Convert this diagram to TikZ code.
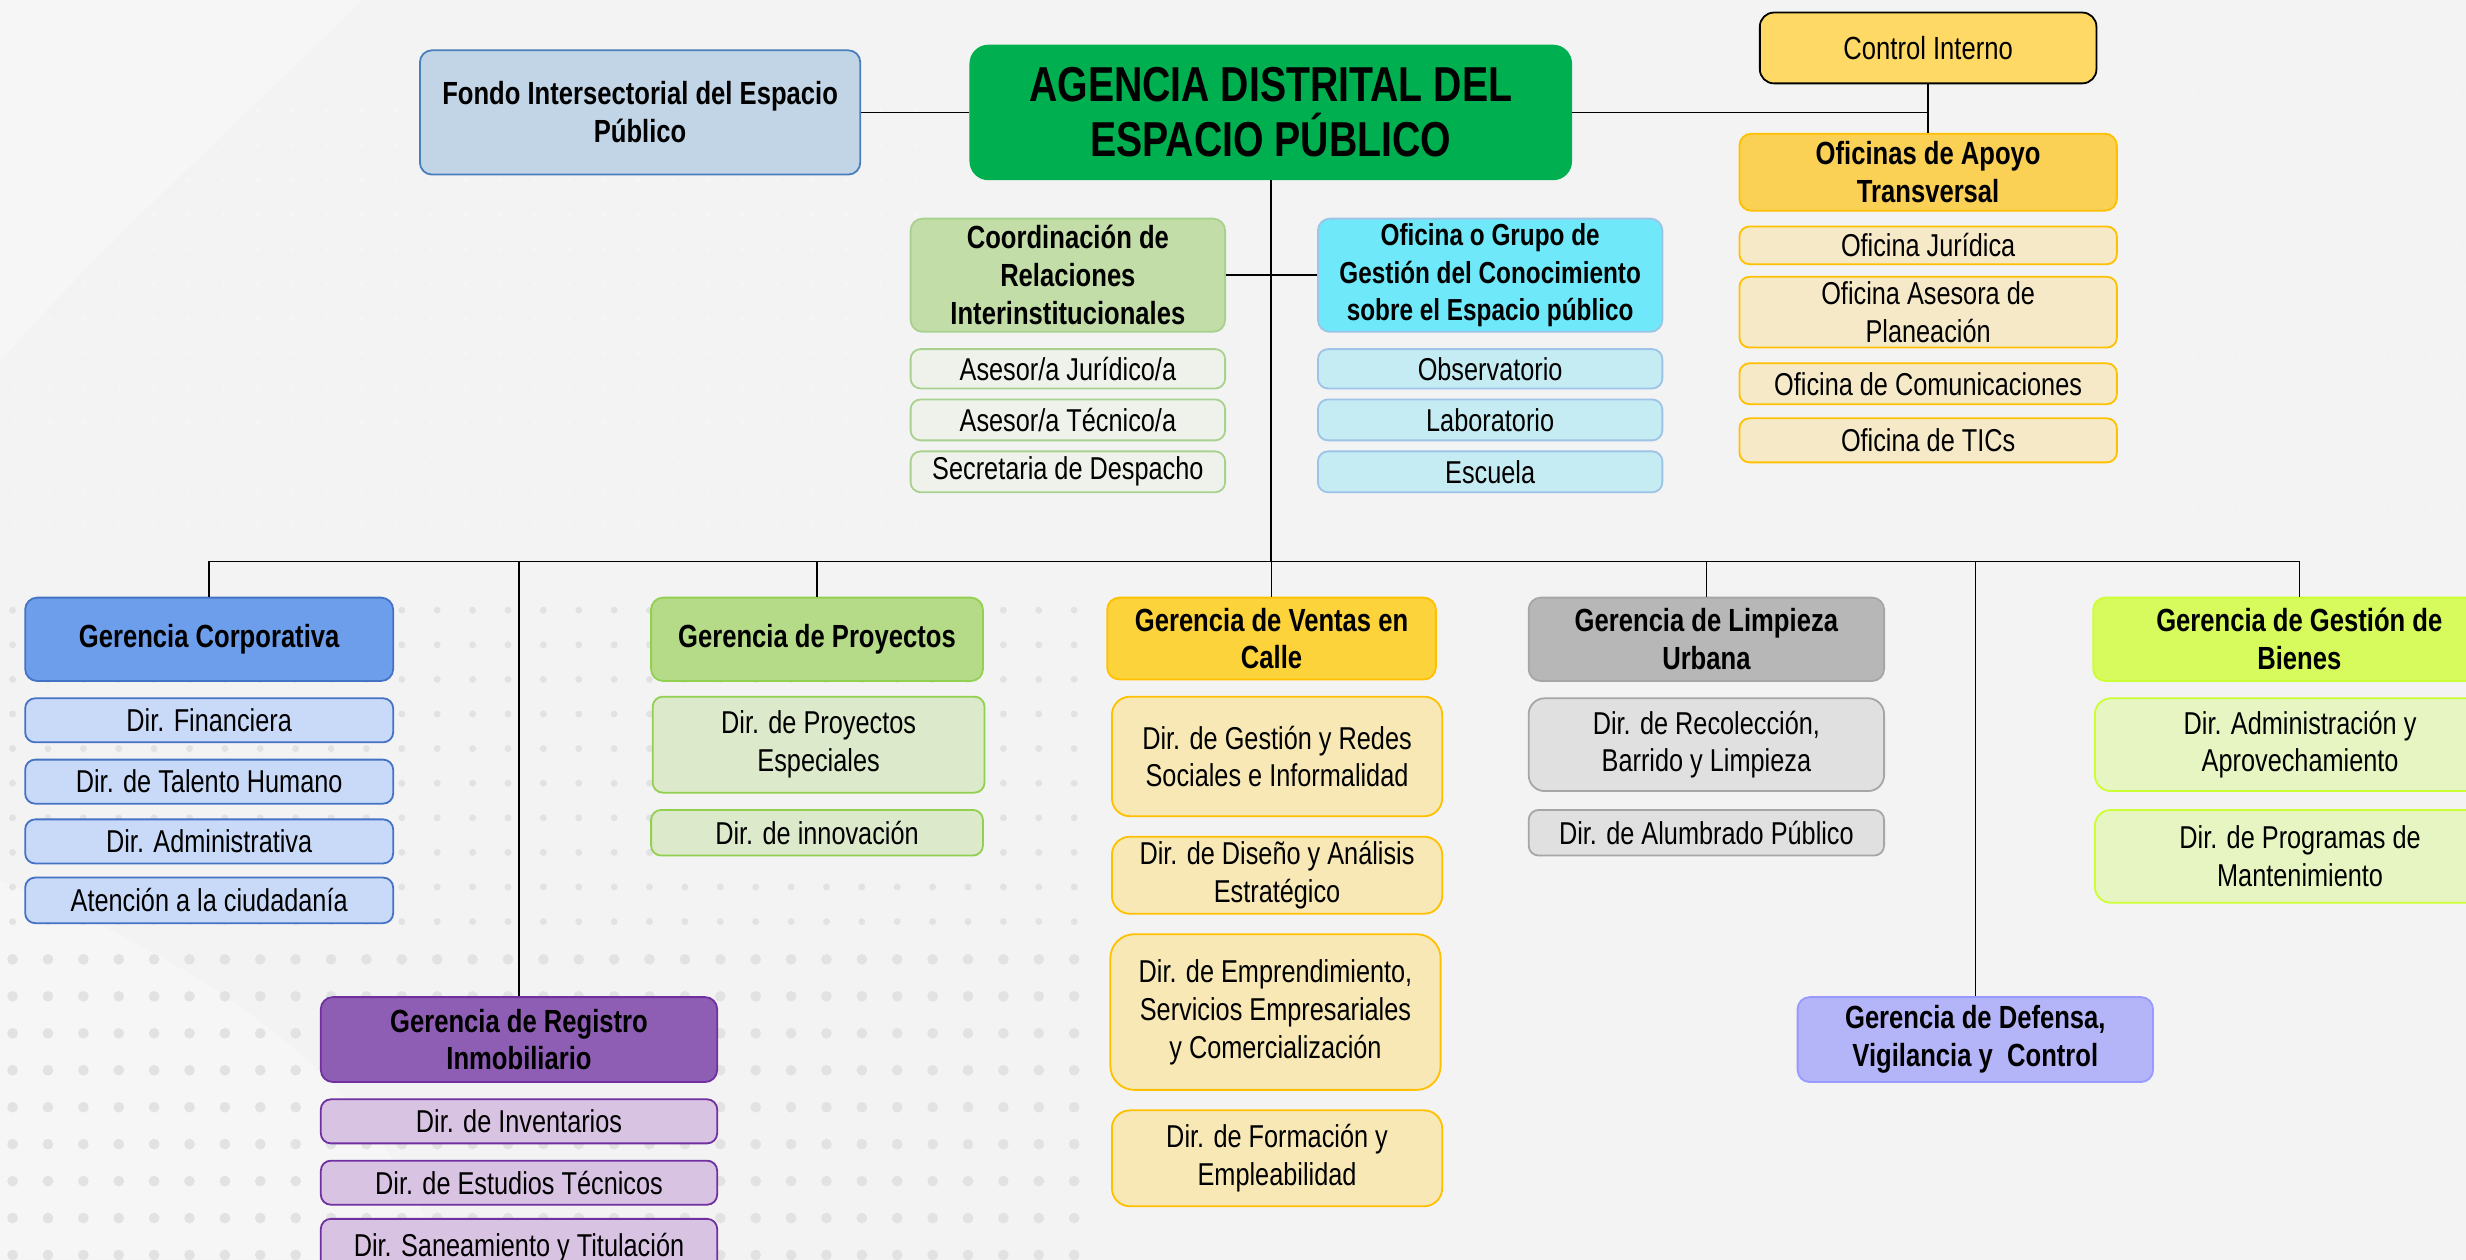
\documentclass[tikz,border=0pt]{standalone}
\usepackage{fontspec}
\setmainfont{Liberation Sans}[FakeStretch=0.80]
\usetikzlibrary{calc}
\definecolor{bgc}{HTML}{F3F3F3}
\definecolor{fondoF}{HTML}{C2D5E6}\definecolor{fondoD}{HTML}{4A7EBB}
\definecolor{agF}{HTML}{00B050}
\definecolor{ciF}{HTML}{FFD966}
\definecolor{apF}{HTML}{FAD055}\definecolor{apD}{HTML}{FFC000}\definecolor{apS}{HTML}{F6E9C8}
\definecolor{coF}{HTML}{C3DDA9}\definecolor{coD}{HTML}{A9D18E}\definecolor{coS}{HTML}{EEF2EA}
\definecolor{ogF}{HTML}{6FE9F9}\definecolor{ogD}{HTML}{9DC3E6}\definecolor{ogS}{HTML}{C6ECF3}
\definecolor{gcF}{HTML}{6D9EEB}\definecolor{gcD}{HTML}{4472C4}\definecolor{gcS}{HTML}{C9DAF8}
\definecolor{gpF}{HTML}{B6DB88}\definecolor{gpD}{HTML}{92D050}\definecolor{gpS}{HTML}{DCE9CB}
\definecolor{gvF}{HTML}{FCD33A}\definecolor{gvD}{HTML}{FFC000}\definecolor{gvS}{HTML}{F7E8B5}
\definecolor{glF}{HTML}{B7B7B7}\definecolor{glD}{HTML}{A6A6A6}\definecolor{glS}{HTML}{E0E0E0}
\definecolor{gbF}{HTML}{D7FA5C}\definecolor{gbD}{HTML}{CCFF33}\definecolor{gbS}{HTML}{E6F5C2}
\definecolor{grF}{HTML}{8E5DB4}\definecolor{grD}{HTML}{7030A0}\definecolor{grS}{HTML}{D9C3E2}
\definecolor{gdF}{HTML}{B4B4F8}\definecolor{gdD}{HTML}{9999FF}
\definecolor{dotc}{HTML}{E2E2E2}
\tikzset{
  box/.style={draw, rounded corners=6pt, align=center, inner sep=0pt, line width=0.9pt},
  hdr/.style={box, font=\bfseries\fontsize{16}{18.9}\selectfont},
  sub/.style={box, rounded corners=5pt, font=\fontsize{15.8}{18.9}\selectfont},
  conn/.style={draw=black, line width=0.8pt},
}
\newcommand{\orgbox}[7]{%
  \node[#2, minimum width={(#5-#3)*0.786pt}, minimum height={(#6-#4)*0.786pt}]
    (#1) at ({(#3+#5)/2},{(#4+#6)/2}) {#7};}
\begin{document}
\begin{tikzpicture}[x=0.786pt,y=-0.786pt]
\useasboundingbox (0,0) rectangle (1568,801);
\clip (0,0) rectangle (1568,801);
\fill[bgc] (0,0) rectangle (1568,801);
\fill[white,opacity=0.3] (0,0) -- (230,0) .. controls (150,80) and (60,160) .. (0,230) -- cycle;
\fill[white,opacity=0.3] (0,560) .. controls (150,620) and (250,700) .. (280,801) -- (0,801) -- cycle;
% dot grids
\foreach \i in {0,...,26}{\foreach \j in {0,...,12}{
  \fill[white!70!dotc] ({10+\i*22},{70+\j*22}) circle (1.3);}}
\foreach \i in {0,...,30}{\foreach \j in {0,...,9}{
  \fill[dotc] ({8+\i*22.5},{388+\j*22}) circle (2.2);}}
\foreach \i in {0,...,30}{\foreach \j in {0,...,8}{
  \fill[dotc] ({8+\i*22.5},{610+\j*23.5}) circle (3.4);}}
\foreach \i in {0,...,9}{\foreach \j in {0,...,13}{
  \fill[white!55!dotc] ({1350+\i*24},{35+\j*24}) circle (1.5);}}

% top level
\orgbox{fondo}{hdr, fill=fondoF, draw=fondoD}{267}{32}{547}{111}{Fondo Intersectorial del Espacio\\Público}
\orgbox{agencia}{box, fill=agF, draw=agF, rounded corners=9pt, font=\bfseries\fontsize{24.5}{27.5}\selectfont}{617}{29}{999}{114}{AGENCIA DISTRITAL DEL\\ESPACIO PÚBLICO}
\orgbox{ctrl}{box, fill=ciF, draw=black, rounded corners=7pt, font=\fontsize{16}{18}\selectfont}{1119}{8}{1333}{53}{Control Interno}
\orgbox{apoyo}{hdr, fill=apF, draw=apD}{1106}{85}{1346}{134}{Oficinas de Apoyo\\Transversal}
\orgbox{ap1}{sub, fill=apS, draw=apD}{1106}{144}{1346}{168}{Oficina Jurídica}
\orgbox{ap2}{sub, fill=apS, draw=apD}{1106}{176}{1346}{221}{Oficina Asesora de\\Planeación}
\orgbox{ap3}{sub, fill=apS, draw=apD}{1106}{231}{1346}{257}{Oficina de Comunicaciones}
\orgbox{ap4}{sub, fill=apS, draw=apD}{1106}{266}{1346}{294}{Oficina de TICs}

\orgbox{coord}{hdr, fill=coF, draw=coD}{579}{139}{779}{211}{Coordinación de\\Relaciones\\Interinstitucionales}
\orgbox{co1}{sub, fill=coS, draw=coD}{579}{222}{779}{247}{Asesor/a Jurídico/a}
\orgbox{co2}{sub, fill=coS, draw=coD}{579}{254}{779}{280}{Asesor/a Técnico/a}
\orgbox{co3}{sub, fill=coS, draw=coD}{579}{287}{779}{313}{Secretaria de Despacho}

\orgbox{ogrupo}{hdr, fill=ogF, draw=ogD, font=\bfseries\fontsize{15.2}{18.9}\selectfont}{838}{139}{1057}{211}{Oficina o Grupo de\\Gestión del Conocimiento\\sobre el Espacio público}
\orgbox{og1}{sub, fill=ogS, draw=ogD}{838}{222}{1057}{247}{Observatorio}
\orgbox{og2}{sub, fill=ogS, draw=ogD}{838}{254}{1057}{280}{Laboratorio}
\orgbox{og3}{sub, fill=ogS, draw=ogD}{838}{287}{1057}{313}{Escuela}

% gerencias
\orgbox{gc}{hdr, fill=gcF, draw=gcD}{16}{380}{250}{433}{Gerencia Corporativa}
\orgbox{gc1}{sub, fill=gcS, draw=gcD}{16}{444}{250}{472}{Dir. Financiera}
\orgbox{gc2}{sub, fill=gcS, draw=gcD}{16}{483}{250}{511}{Dir. de Talento Humano}
\orgbox{gc3}{sub, fill=gcS, draw=gcD}{16}{521}{250}{549}{Dir. Administrativa}
\orgbox{gc4}{sub, fill=gcS, draw=gcD}{16}{558}{250}{587}{Atención a la ciudadanía}

\orgbox{gp}{hdr, fill=gpF, draw=gpD}{414}{380}{625}{433}{Gerencia de Proyectos}
\orgbox{gp1}{sub, fill=gpS, draw=gpD}{415}{443}{626}{504}{Dir. de Proyectos\\Especiales}
\orgbox{gp2}{sub, fill=gpS, draw=gpD}{414}{515}{625}{544}{Dir. de innovación}

\orgbox{gv}{hdr, fill=gvF, draw=gvD}{704}{380}{913}{432}{Gerencia de Ventas en\\Calle}
\orgbox{gv1}{sub, fill=gvS, draw=gvD, rounded corners=9pt}{707}{443}{917}{519}{Dir. de Gestión y Redes\\Sociales e Informalidad}
\orgbox{gv2}{sub, fill=gvS, draw=gvD, rounded corners=9pt}{707}{532}{917}{581}{Dir. de Diseño y Análisis\\Estratégico}
\orgbox{gv3}{sub, fill=gvS, draw=gvD, rounded corners=12pt}{706}{594}{916}{693}{Dir. de Emprendimiento,\\Servicios Empresariales\\y Comercialización}
\orgbox{gv4}{sub, fill=gvS, draw=gvD, rounded corners=9pt}{707}{706}{917}{767}{Dir. de Formación y\\Empleabilidad}

\orgbox{gl}{hdr, fill=glF, draw=glD}{972}{380}{1198}{433}{Gerencia de Limpieza\\Urbana}
\orgbox{gl1}{sub, fill=glS, draw=glD, rounded corners=8pt}{972}{444}{1198}{503}{Dir. de Recolección,\\Barrido y Limpieza}
\orgbox{gl2}{sub, fill=glS, draw=glD}{972}{515}{1198}{544}{Dir. de Alumbrado Público}

\orgbox{gb}{hdr, fill=gbF, draw=gbD}{1331}{380}{1593}{433}{Gerencia de Gestión de\\Bienes}
\orgbox{gb1}{sub, fill=gbS, draw=gbD, rounded corners=8pt}{1332}{444}{1593}{503}{Dir. Administración y\\Aprovechamiento}
\orgbox{gb2}{sub, fill=gbS, draw=gbD, rounded corners=8pt}{1332}{515}{1593}{574}{Dir. de Programas de\\Mantenimiento}

\orgbox{gr}{hdr, fill=grF, draw=grD}{204}{634}{456}{688}{Gerencia de Registro\\Inmobiliario}
\orgbox{gr1}{sub, fill=grS, draw=grD}{204}{699}{456}{727}{Dir. de Inventarios}
\orgbox{gr2}{sub, fill=grS, draw=grD}{204}{738}{456}{766}{Dir. de Estudios Técnicos}
\orgbox{gr3}{sub, fill=grS, draw=grD}{204}{775}{456}{812}{\raisebox{3pt}{Dir. Saneamiento y Titulación}}

\orgbox{gd}{hdr, fill=gdF, draw=gdD}{1143}{634}{1369}{688}{Gerencia de Defensa,\\Vigilancia y\ \ Control}

% connectors
\draw[conn] (fondo.east) -- (agencia.west);
\draw[conn] (agencia.east) -| (apoyo.north);
\draw[conn] (ctrl.south) -- (apoyo.north);
\draw[conn] (coord.east) -- (ogrupo.west);
\coordinate (busL) at (133,357);
\coordinate (busR) at (1462,357);
\draw[conn] (agencia.south) -- (agencia.south |- busL);
\draw[conn] (busL) -- (busR);
\draw[conn] (gc.north) -- (gc.north |- busL);
\draw[conn] (gr.north) -- (gr.north |- busL);
\draw[conn] (gp.north) -- (gp.north |- busL);
\draw[conn] (gv.north) -- (gv.north |- busL);
\draw[conn] (gl.north) -- (gl.north |- busL);
\draw[conn] (gd.north) -- (gd.north |- busL);
\draw[conn] (gb.north) -- (gb.north |- busL);
\end{tikzpicture}
\end{document}
